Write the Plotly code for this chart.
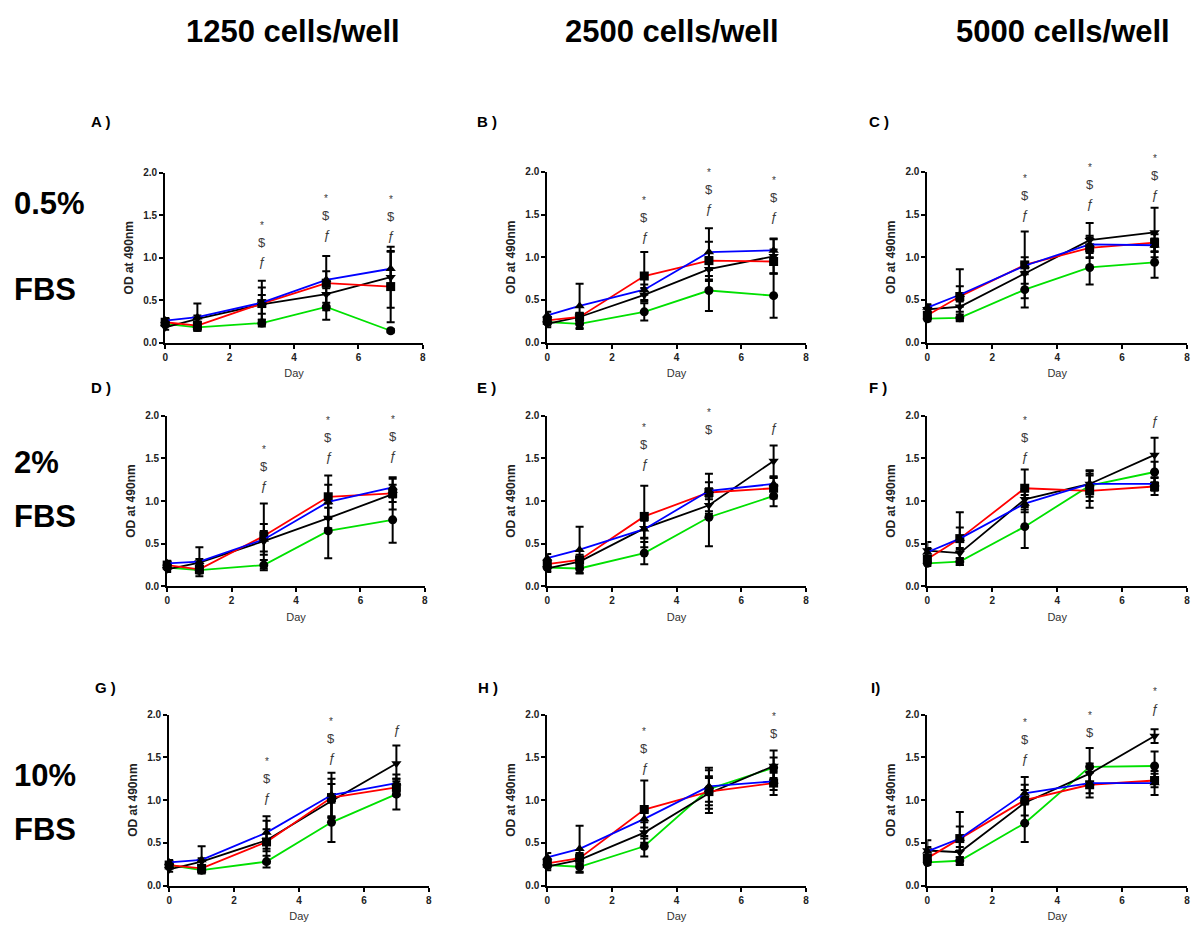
import plotly.graph_objects as go

# ---------------- data ----------------
days = [0, 1, 3, 5, 7]
panel_labels = ["A )", "B )", "C )", "D )", "E )", "F )", "G )", "H )", "I)"]
column_titles = ["1250 cells/well", "2500 cells/well", "5000 cells/well"]
row_titles = [["0.5%", "FBS"], ["2%", "FBS"], ["10%", "FBS"]]
x_title = "Day"
y_title = "OD at 490nm"
x_ticks = [0, 2, 4, 6, 8]
y_ticks = [0.0, 0.5, 1.0, 1.5, 2.0]

# per panel values (A..I)
blue_vals = [
    [0.26, 0.30, 0.47, 0.74, 0.87],
    [0.32, 0.43, 0.62, 1.06, 1.08],
    [0.41, 0.56, 0.90, 1.15, 1.14],
    [0.27, 0.29, 0.55, 0.99, 1.16],
    [0.33, 0.43, 0.67, 1.12, 1.20],
    [0.40, 0.56, 0.97, 1.20, 1.20],
    [0.27, 0.30, 0.62, 1.06, 1.20],
    [0.33, 0.43, 0.78, 1.16, 1.22],
    [0.40, 0.55, 1.08, 1.20, 1.20],
]
blue_err = [
    [0.03, 0.16, 0.26, 0.10, 0.20],
    [0.04, 0.26, 0.06, 0.28, 0.14],
    [0.04, 0.30, 0.10, 0.10, 0.08],
    [0.03, 0.17, 0.18, 0.20, 0.12],
    [0.05, 0.27, 0.10, 0.10, 0.08],
    [0.05, 0.31, 0.10, 0.10, 0.08],
    [0.03, 0.16, 0.19, 0.26, 0.10],
    [0.05, 0.27, 0.10, 0.22, 0.10],
    [0.05, 0.31, 0.10, 0.12, 0.14],
]
red_vals = [
    [0.24, 0.20, 0.46, 0.70, 0.66],
    [0.26, 0.30, 0.78, 0.96, 0.95],
    [0.32, 0.54, 0.91, 1.11, 1.17],
    [0.25, 0.20, 0.59, 1.05, 1.09],
    [0.26, 0.31, 0.82, 1.10, 1.15],
    [0.32, 0.56, 1.15, 1.12, 1.17],
    [0.24, 0.20, 0.51, 1.03, 1.15],
    [0.26, 0.32, 0.89, 1.10, 1.20],
    [0.32, 0.55, 1.00, 1.18, 1.23],
]
red_err = [
    [0.03, 0.05, 0.19, 0.32, 0.42],
    [0.04, 0.05, 0.28, 0.22, 0.14],
    [0.03, 0.12, 0.39, 0.12, 0.10],
    [0.03, 0.05, 0.38, 0.25, 0.10],
    [0.04, 0.06, 0.36, 0.22, 0.12],
    [0.04, 0.13, 0.22, 0.20, 0.10],
    [0.03, 0.04, 0.25, 0.22, 0.10],
    [0.04, 0.06, 0.34, 0.25, 0.14],
    [0.04, 0.14, 0.27, 0.15, 0.08],
]
black_vals = [
    [0.18, 0.28, 0.45, 0.57, 0.77],
    [0.22, 0.30, 0.56, 0.86, 1.01],
    [0.39, 0.42, 0.81, 1.20, 1.29],
    [0.20, 0.28, 0.53, 0.80, 1.08],
    [0.21, 0.29, 0.68, 0.95, 1.47],
    [0.42, 0.39, 1.02, 1.20, 1.54],
    [0.19, 0.28, 0.53, 0.99, 1.43],
    [0.22, 0.30, 0.62, 1.08, 1.40],
    [0.41, 0.39, 0.97, 1.31, 1.75],
]
black_err = [
    [0.03, 0.04, 0.11, 0.10, 0.36],
    [0.04, 0.04, 0.08, 0.14, 0.20],
    [0.05, 0.06, 0.12, 0.20, 0.29],
    [0.03, 0.04, 0.12, 0.12, 0.18],
    [0.04, 0.05, 0.12, 0.10, 0.18],
    [0.10, 0.06, 0.12, 0.15, 0.20],
    [0.03, 0.04, 0.13, 0.20, 0.21],
    [0.04, 0.05, 0.12, 0.18, 0.18],
    [0.12, 0.06, 0.15, 0.12, 0.08],
]
green_vals = [
    [0.22, 0.18, 0.23, 0.42, 0.14],
    [0.24, 0.22, 0.36, 0.61, 0.55],
    [0.28, 0.29, 0.62, 0.88, 0.94],
    [0.22, 0.19, 0.25, 0.65, 0.78],
    [0.22, 0.21, 0.39, 0.81, 1.06],
    [0.27, 0.29, 0.70, 1.18, 1.34],
    [0.24, 0.18, 0.28, 0.74, 1.07],
    [0.24, 0.22, 0.46, 1.13, 1.38],
    [0.27, 0.29, 0.73, 1.39, 1.40],
]
green_err = [
    [0.03, 0.04, 0.04, 0.15, 0.02],
    [0.04, 0.06, 0.10, 0.24, 0.26],
    [0.03, 0.04, 0.21, 0.20, 0.18],
    [0.03, 0.03, 0.06, 0.32, 0.27],
    [0.04, 0.06, 0.13, 0.34, 0.12],
    [0.03, 0.04, 0.25, 0.18, 0.12],
    [0.03, 0.03, 0.07, 0.23, 0.18],
    [0.04, 0.07, 0.12, 0.15, 0.12],
    [0.03, 0.04, 0.22, 0.22, 0.17],
]
# significance marks: (day, OD level of the top symbol, symbols top->bottom)
sig_marks = [
    [(3, 1.40, "*$f"), (5, 1.72, "*$f"), (7, 1.71, "*$f")],
    [(3, 1.69, "*$f"), (5, 2.01, "*$f"), (7, 1.92, "*$f")],
    [(3, 1.95, "*$f"), (5, 2.07, "*$f"), (7, 2.18, "*$f")],
    [(3, 1.63, "*$f"), (5, 1.97, "*$f"), (7, 1.98, "*$f")],
    [(3, 1.88, "*$f"), (5, 2.06, "*$"), (7, 1.86, "f")],
    [(3, 1.97, "*$f"), (7, 1.94, "f")],
    [(3, 1.48, "*$f"), (5, 1.95, "*$f"), (7, 1.83, "f")],
    [(3, 1.83, "*$f"), (7, 2.00, "*$")],
    [(3, 1.93, "*$f"), (5, 2.01, "*$"), (7, 2.30, "*f")],
]

# ---------------- layout constants ----------------
W, H = 1196, 931
X_MAX, Y_MAX = 8.0, 2.0
# pixel boxes: (left, right, top, bottom)
boxes = [
    (163, 422, 169, 341), (547, 807, 168, 341), (929, 1190, 168, 341),
    (165, 424, 415, 588), (547, 807, 415, 588), (929, 1190, 415, 588),
    (167, 428, 718, 891), (547, 807, 718, 891), (929, 1190, 718, 891),
]
label_pos = [(86, 117), (474, 117), (868, 117),
             (86, 386), (474, 386), (868, 386),
             (90, 690), (475, 690), (870, 690)]
col_title_x = [291, 672, 1065]
row_title_y = [(200, 287), (462, 517), (780, 834)]

FONT = "Liberation Sans, Arial, sans-serif"
series = [
    ("green", green_vals, green_err, "#00e000", "circle"),
    ("black", black_vals, black_err, "#000000", "triangle-down"),
    ("red", red_vals, red_err, "#ff0000", "square"),
    ("blue", blue_vals, blue_err, "#0000ff", "triangle-up"),
]

fig = go.Figure()
annotations = []
layout = dict()
for p in range(9):
    xa = "x" if p == 0 else f"x{p+1}"
    ya = "y" if p == 0 else f"y{p+1}"
    l, r, t, b = boxes[p]
    layout["xaxis" if p == 0 else f"xaxis{p+1}"] = dict(
        domain=[l / W, r / W], anchor=ya, range=[0, X_MAX],
        tickvals=x_ticks, ticktext=[str(v) for v in x_ticks],
        showline=True, linewidth=2, linecolor="black", ticks="outside",
        ticklen=4, tickwidth=2, tickcolor="black", showgrid=False, zeroline=False,
        tickfont=dict(family=FONT, size=10, color="#222", weight="bold"),
        title=dict(text=x_title, font=dict(family=FONT, size=11, color="#333"), standoff=8),
    )
    layout["yaxis" if p == 0 else f"yaxis{p+1}"] = dict(
        domain=[1 - b / H, 1 - t / H], anchor=xa, range=[0, Y_MAX],
        tickvals=y_ticks, ticktext=[f"{v:.1f}" for v in y_ticks],
        showline=True, linewidth=2, linecolor="black", ticks="outside",
        ticklen=4, tickwidth=2, tickcolor="black", showgrid=False, zeroline=False,
        tickfont=dict(family=FONT, size=10, color="#222", weight="bold"),
        title=dict(text=y_title, font=dict(family=FONT, size=12, color="#222", weight="bold"), standoff=7),
    )
    for name, vals, errs, col, sym in series:
        fig.add_trace(go.Scatter(
            x=days, y=vals[p], mode="lines+markers", name=name, showlegend=False,
            xaxis=xa, yaxis=ya, cliponaxis=False,
            line=dict(color=col, width=1.8),
            marker=dict(symbol=sym, size=9, color="black"),
            error_y=dict(type="data", array=errs[p], visible=True, color="black",
                         thickness=2, width=4),
        ))
    for day, top, syms in sig_marks[p]:
        for i, s in enumerate(syms):
            txt = {"*": "*", "$": "$", "f": "<i>ƒ</i>"}[s]
            annotations.append(dict(
                x=day / X_MAX, y=top / Y_MAX, xref=f"{xa} domain", yref=f"{ya} domain",
                text=txt, showarrow=False,
                yshift=-19 * i + (-2 if s == "*" else 0), yanchor="middle", xanchor="center",
                font=dict(family=FONT, size=13 if s != "*" else 10, color="#3a3a3a"),
            ))
    lx, ly = label_pos[p]
    annotations.append(dict(
        x=lx / W, y=1 - ly / H, xref="paper", yref="paper", text=panel_labels[p],
        showarrow=False, xanchor="left", yanchor="middle",
        font=dict(family=FONT, size=15, color="black", weight="bold"),
    ))

for c in range(3):
    annotations.append(dict(
        x=col_title_x[c] / W, y=1 - 26 / H, xref="paper", yref="paper",
        text=column_titles[c], showarrow=False, xanchor="center", yanchor="middle",
        font=dict(family=FONT, size=31, color="black", weight="bold"),
    ))
for rr in range(3):
    for k in range(2):
        annotations.append(dict(
            x=9 / W, y=1 - row_title_y[rr][k] / H, xref="paper", yref="paper",
            text=row_titles[rr][k], showarrow=False, xanchor="left", yanchor="middle",
            font=dict(family=FONT, size=31, color="black", weight="bold"),
        ))

fig.update_layout(**layout)
fig.update_layout(
    width=W, height=H, margin=dict(l=0, r=0, t=0, b=0),
    paper_bgcolor="white", plot_bgcolor="white",
    annotations=annotations, showlegend=False,
)
fig.write_html("out.html")
